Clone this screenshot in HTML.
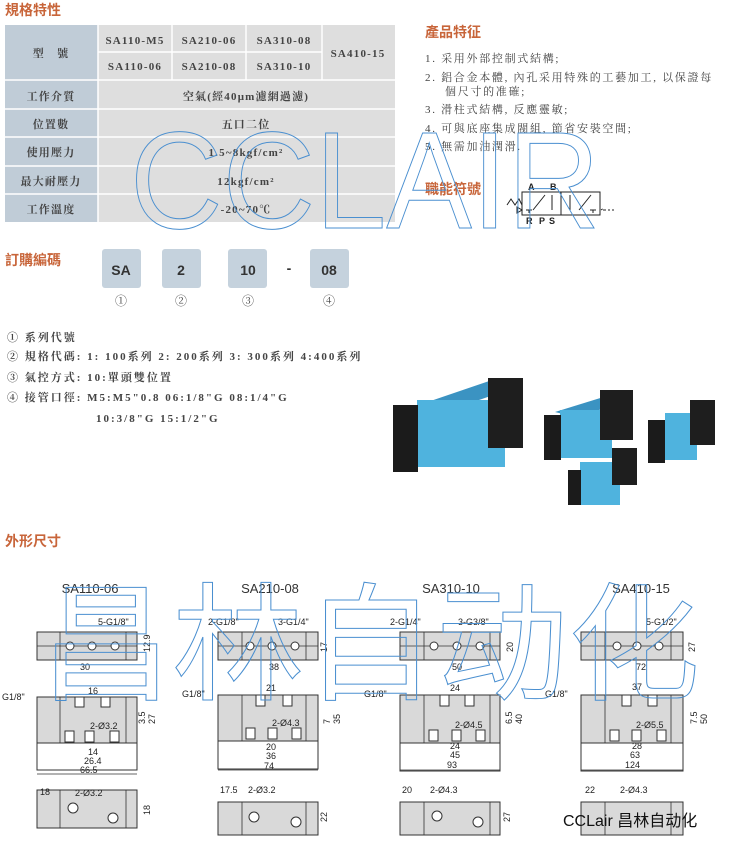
<!DOCTYPE html>
<html><head><meta charset="utf-8"><style>
html,body{margin:0;padding:0;background:#fff;}
svg{display:block;}
.t{font-family:"Liberation Serif","Noto Serif CJK SC",serif;fill:#444;}
.h{font-family:"Liberation Sans","Noto Sans CJK SC",sans-serif;fill:#c8653a;font-size:14px;font-weight:bold;}
.d{font-family:"Liberation Sans",sans-serif;fill:#222;font-size:9px;}
.ti{font-family:"Liberation Sans",sans-serif;fill:#333;font-size:13px;}
.g{fill:#d9d9d9;stroke:#333;stroke-width:1;}
.o{fill:#fff;stroke:#333;stroke-width:1;}
.ln{stroke:#333;stroke-width:.8;fill:none;}
.wm{fill:none;stroke:#4a8fd0;stroke-width:1;}
</style></head><body>
<svg width="731" height="843" viewBox="0 0 731 843" xmlns="http://www.w3.org/2000/svg">
<text x="5" y="15" class="h">規格特性</text>
<rect x="5" y="25" width="93" height="197" fill="#c0ccd7"/>
<rect x="98" y="25" width="297" height="197" fill="#dedede"/>
<g stroke="#fff" stroke-width="1.5">
<line x1="5" y1="80" x2="395" y2="80"/><line x1="5" y1="109" x2="395" y2="109"/>
<line x1="5" y1="137" x2="395" y2="137"/><line x1="5" y1="166" x2="395" y2="166"/>
<line x1="5" y1="194" x2="395" y2="194"/><line x1="98" y1="52" x2="322" y2="52"/>
<line x1="98" y1="25" x2="98" y2="222"/><line x1="172" y1="25" x2="172" y2="80"/>
<line x1="246" y1="25" x2="246" y2="80"/><line x1="322" y1="25" x2="322" y2="80"/>
</g>
<g class="t" font-size="11" text-anchor="middle" letter-spacing="1.2" font-weight="bold">
<text x="51" y="57">型　號</text>
<text x="135" y="44">SA110-M5</text><text x="209" y="44">SA210-06</text><text x="284" y="44">SA310-08</text>
<text x="135" y="70">SA110-06</text><text x="209" y="70">SA210-08</text><text x="284" y="70">SA310-10</text>
<text x="358" y="57">SA410-15</text>
<text x="51" y="100">工作介質</text><text x="246" y="100">空氣(經40μm濾網過濾)</text>
<text x="51" y="128">位置數</text><text x="246" y="128">五口二位</text>
<text x="51" y="156">使用壓力</text><text x="246" y="156">1.5~8kgf/cm²</text>
<text x="51" y="185">最大耐壓力</text><text x="246" y="185">12kgf/cm²</text>
<text x="51" y="213">工作溫度</text><text x="246" y="213">-20~70℃</text>
</g>
<text x="425" y="37" class="h">產品特征</text>
<g class="t" font-size="11" letter-spacing="1.7">
<text x="425" y="62">1. 采用外部控制式結構;</text>
<text x="425" y="81">2. 鋁合金本體, 內孔采用特殊的工藝加工, 以保證每</text>
<text x="445" y="95">個尺寸的准確;</text>
<text x="425" y="113">3. 滑柱式結構, 反應靈敏;</text>
<text x="425" y="132">4. 可與底座集成閥組, 節省安裝空間;</text>
<text x="425" y="150">5. 無需加油潤滑.</text>
</g>
<text x="425" y="194" class="h">職能符號</text>
<g stroke="#222" fill="none" stroke-width="1">
<rect x="522" y="192" width="78" height="23"/><line x1="561" y1="192" x2="561" y2="215"/>
<path d="M507 205 l4 -6 l4 6 l4 -6 l3 6"/><path d="M517 207 l5 3 l-5 3z"/>
<path d="M605 210 h-4 l3 -2 M604 210 h12" stroke-dasharray="2 2"/>
<line x1="533" y1="210" x2="545" y2="195"/><line x1="552" y1="195" x2="552" y2="210"/>
<line x1="570" y1="195" x2="570" y2="210"/><line x1="579" y1="210" x2="591" y2="195"/>
<path d="M526 210 h6 M529 210 v3"/><path d="M590 210 h6 M593 210 v3"/>
</g>
<g class="d" font-weight="bold" font-size="9"><text x="528" y="190">A</text><text x="550" y="190">B</text><text x="526" y="224">R</text><text x="539" y="224">P</text><text x="549" y="224">S</text></g>
<text x="5" y="265" class="h">訂購編碼</text>
<g fill="#c5d2dd"><rect x="102" y="249" width="39" height="39" rx="3"/><rect x="162" y="249" width="39" height="39" rx="3"/><rect x="228" y="249" width="39" height="39" rx="3"/><rect x="310" y="249" width="39" height="39" rx="3"/></g>
<g font-family="Liberation Sans,sans-serif" font-weight="bold" font-size="14" fill="#333" text-anchor="middle">
<text x="121" y="275">SA</text><text x="181" y="275">2</text><text x="248" y="275">10</text><text x="289" y="273">-</text><text x="329" y="275">08</text></g>
<g class="t" font-size="12" text-anchor="middle"><text x="121" y="305">①</text><text x="181" y="305">②</text><text x="248" y="305">③</text><text x="329" y="305">④</text></g>
<g class="t" font-size="11" letter-spacing="2" font-weight="bold">
<text x="7" y="341">① 系列代號</text>
<text x="7" y="360">② 規格代碼: 1: 100系列  2: 200系列  3: 300系列  4:400系列</text>
<text x="7" y="381">③ 氣控方式: 10:單頭雙位置</text>
<text x="7" y="401">④ 接管口徑: M5:M5"0.8  06:1/8"G  08:1/4"G</text>
<text x="96" y="422">10:3/8"G  15:1/2"G</text>
</g>
<g>
<polygon points="410,408 498,378 523,385 435,415" fill="#3b93c2"/>
<rect x="417" y="400" width="88" height="67" fill="#4fb3de"/>
<rect x="393" y="405" width="25" height="67" fill="#1b1b1b"/><rect x="488" y="378" width="35" height="70" fill="#1e1e1e"/>
<polygon points="555,412 610,395 633,400 575,417" fill="#3b93c2"/>
<rect x="560" y="410" width="52" height="48" fill="#4fb3de"/>
<rect x="544" y="415" width="17" height="45" fill="#1b1b1b"/><rect x="600" y="390" width="33" height="50" fill="#1e1e1e"/>
<rect x="665" y="413" width="32" height="47" fill="#4fb3de"/>
<rect x="648" y="420" width="17" height="43" fill="#1b1b1b"/><rect x="690" y="400" width="25" height="45" fill="#1e1e1e"/>
<rect x="580" y="462" width="40" height="43" fill="#4fb3de"/>
<rect x="568" y="470" width="13" height="35" fill="#1b1b1b"/><rect x="612" y="448" width="25" height="37" fill="#1e1e1e"/>
</g>
<text x="5" y="546" class="h">外形尺寸</text>
<g class="ti" text-anchor="middle"><text x="90" y="593">SA110-06</text><text x="270" y="593">SA210-08</text><text x="451" y="593">SA310-10</text><text x="641" y="593">SA410-15</text></g>
<g>
<rect x="37" y="632" width="100" height="28" class="g"/><line x1="60" y1="632" x2="60" y2="660" class="ln"/><line x1="126" y1="632" x2="126" y2="660" class="ln"/><line x1="37" y1="646" x2="137" y2="646" class="ln"/>
<circle cx="70" cy="646" r="4" class="o"/><circle cx="92" cy="646" r="4" class="o"/><circle cx="115" cy="646" r="4" class="o"/>
<rect x="37" y="743" width="100" height="27" class="o"/>
<rect x="37" y="697" width="100" height="46" class="g"/><line x1="60" y1="697" x2="60" y2="743" class="ln"/><line x1="126" y1="697" x2="126" y2="743" class="ln"/>
<rect x="75" y="697" width="9" height="10" class="o"/><rect x="101" y="697" width="9" height="10" class="o"/>
<rect x="65" y="731" width="9" height="11" class="o"/><rect x="85" y="731" width="9" height="11" class="o"/><rect x="110" y="731" width="9" height="11" class="o"/>
<rect x="37" y="790" width="100" height="38" class="g"/><line x1="60" y1="790" x2="60" y2="828" class="ln"/><line x1="126" y1="790" x2="126" y2="828" class="ln"/><circle cx="73" cy="808" r="5" class="o"/><circle cx="113" cy="818" r="5" class="o"/>
<g class="d"><text x="98" y="625">5-G1/8"</text><text x="80" y="670">30</text><text x="88" y="694">16</text><text x="2" y="700">G1/8"</text><text x="90" y="729">2-Ø3.2</text><text x="88" y="755">14</text><text x="84" y="764">26.4</text><text x="80" y="773">66.5</text><text x="40" y="795">18</text><text x="75" y="796">2-Ø3.2</text><text x="145" y="724" transform="rotate(-90 145 724)">3.5</text><text x="155" y="724" transform="rotate(-90 155 724)">27</text><text x="150" y="815" transform="rotate(-90 150 815)">18</text><text x="150" y="652" transform="rotate(-90 150 652)">12.9</text></g>
<line x1="37" y1="774" x2="137" y2="774" class="ln"/>
</g>
<g>
<rect x="218" y="632" width="100" height="28" class="g"/><line x1="242" y1="632" x2="242" y2="660" class="ln"/><line x1="306" y1="632" x2="306" y2="660" class="ln"/><line x1="218" y1="646" x2="318" y2="646" class="ln"/>
<circle cx="250" cy="646" r="4" class="o"/><circle cx="272" cy="646" r="4" class="o"/><circle cx="295" cy="646" r="4" class="o"/>
<rect x="218" y="741" width="100" height="28" class="o"/>
<rect x="218" y="695" width="100" height="46" class="g"/><line x1="242" y1="695" x2="242" y2="741" class="ln"/><line x1="306" y1="695" x2="306" y2="741" class="ln"/>
<rect x="256" y="695" width="9" height="11" class="o"/><rect x="283" y="695" width="9" height="11" class="o"/>
<rect x="246" y="728" width="9" height="11" class="o"/><rect x="268" y="728" width="9" height="11" class="o"/><rect x="292" y="728" width="9" height="11" class="o"/>
<rect x="218" y="802" width="100" height="33" class="g"/><line x1="242" y1="802" x2="242" y2="835" class="ln"/><line x1="306" y1="802" x2="306" y2="835" class="ln"/><circle cx="254" cy="817" r="5" class="o"/><circle cx="296" cy="822" r="5" class="o"/>
<g class="d"><text x="208" y="625">2-G1/8"</text><text x="278" y="625">3-G1/4"</text><text x="269" y="670">38</text><text x="266" y="691">21</text><text x="182" y="697">G1/8"</text><text x="272" y="726">2-Ø4.3</text><text x="266" y="750">20</text><text x="266" y="759">36</text><text x="264" y="769">74</text><text x="220" y="793">17.5</text><text x="248" y="793">2-Ø3.2</text><text x="327" y="652" transform="rotate(-90 327 652)">17</text><text x="330" y="724" transform="rotate(-90 330 724)">7</text><text x="340" y="724" transform="rotate(-90 340 724)">35</text><text x="327" y="822" transform="rotate(-90 327 822)">22</text></g>
<line x1="218" y1="770" x2="318" y2="770" class="ln"/>
</g>
<g>
<rect x="400" y="632" width="100" height="28" class="g"/><line x1="424" y1="632" x2="424" y2="660" class="ln"/><line x1="490" y1="632" x2="490" y2="660" class="ln"/><line x1="400" y1="646" x2="500" y2="646" class="ln"/>
<circle cx="434" cy="646" r="4" class="o"/><circle cx="457" cy="646" r="4" class="o"/><circle cx="480" cy="646" r="4" class="o"/>
<rect x="400" y="743" width="100" height="28" class="o"/>
<rect x="400" y="695" width="100" height="48" class="g"/><line x1="424" y1="695" x2="424" y2="743" class="ln"/><line x1="490" y1="695" x2="490" y2="743" class="ln"/>
<rect x="440" y="695" width="9" height="11" class="o"/><rect x="465" y="695" width="9" height="11" class="o"/>
<rect x="429" y="730" width="9" height="11" class="o"/><rect x="452" y="730" width="9" height="11" class="o"/><rect x="476" y="730" width="9" height="11" class="o"/>
<rect x="400" y="802" width="100" height="33" class="g"/><line x1="424" y1="802" x2="424" y2="835" class="ln"/><line x1="490" y1="802" x2="490" y2="835" class="ln"/><circle cx="437" cy="816" r="5" class="o"/><circle cx="478" cy="822" r="5" class="o"/>
<g class="d"><text x="390" y="625">2-G1/4"</text><text x="458" y="625">3-G3/8"</text><text x="452" y="670">50</text><text x="450" y="691">24</text><text x="364" y="697">G1/8"</text><text x="455" y="728">2-Ø4.5</text><text x="450" y="749">24</text><text x="450" y="758">45</text><text x="447" y="768">93</text><text x="402" y="793">20</text><text x="430" y="793">2-Ø4.3</text><text x="513" y="652" transform="rotate(-90 513 652)">20</text><text x="512" y="724" transform="rotate(-90 512 724)">6.5</text><text x="522" y="724" transform="rotate(-90 522 724)">40</text><text x="510" y="822" transform="rotate(-90 510 822)">27</text></g>
<line x1="400" y1="770" x2="500" y2="770" class="ln"/>
</g>
<g>
<rect x="581" y="632" width="102" height="28" class="g"/><line x1="605" y1="632" x2="605" y2="660" class="ln"/><line x1="671" y1="632" x2="671" y2="660" class="ln"/><line x1="581" y1="646" x2="683" y2="646" class="ln"/>
<circle cx="617" cy="646" r="4" class="o"/><circle cx="637" cy="646" r="4" class="o"/><circle cx="659" cy="646" r="4" class="o"/>
<rect x="581" y="743" width="102" height="28" class="o"/>
<rect x="581" y="695" width="102" height="48" class="g"/><line x1="605" y1="695" x2="605" y2="743" class="ln"/><line x1="671" y1="695" x2="671" y2="743" class="ln"/>
<rect x="622" y="695" width="9" height="11" class="o"/><rect x="648" y="695" width="9" height="11" class="o"/>
<rect x="610" y="730" width="9" height="11" class="o"/><rect x="632" y="730" width="9" height="11" class="o"/><rect x="657" y="730" width="9" height="11" class="o"/>
<rect x="581" y="802" width="102" height="33" class="g"/><line x1="605" y1="802" x2="605" y2="835" class="ln"/><line x1="671" y1="802" x2="671" y2="835" class="ln"/>
<g class="d"><text x="646" y="625">5-G1/2"</text><text x="636" y="670">72</text><text x="632" y="690">37</text><text x="545" y="697">G1/8"</text><text x="636" y="728">2-Ø5.5</text><text x="632" y="749">28</text><text x="630" y="758">63</text><text x="625" y="768">124</text><text x="585" y="793">22</text><text x="620" y="793">2-Ø4.3</text><text x="695" y="652" transform="rotate(-90 695 652)">27</text><text x="697" y="724" transform="rotate(-90 697 724)">7.5</text><text x="707" y="724" transform="rotate(-90 707 724)">50</text></g>
<line x1="581" y1="770" x2="683" y2="770" class="ln"/>
</g>
<text x="130" y="228" font-family="Liberation Sans,sans-serif" font-size="138" textLength="470" lengthAdjust="spacingAndGlyphs" class="wm">CCLAIR</text>
<text x="40" y="690" font-family="Noto Sans CJK SC,sans-serif" font-size="128" textLength="660" lengthAdjust="spacingAndGlyphs" class="wm">昌林自动化</text>
<text x="563" y="826" font-family="Liberation Sans,Noto Sans CJK SC,sans-serif" font-size="16" fill="#111">CCLair 昌林自动化</text>
</svg>
</body></html>
